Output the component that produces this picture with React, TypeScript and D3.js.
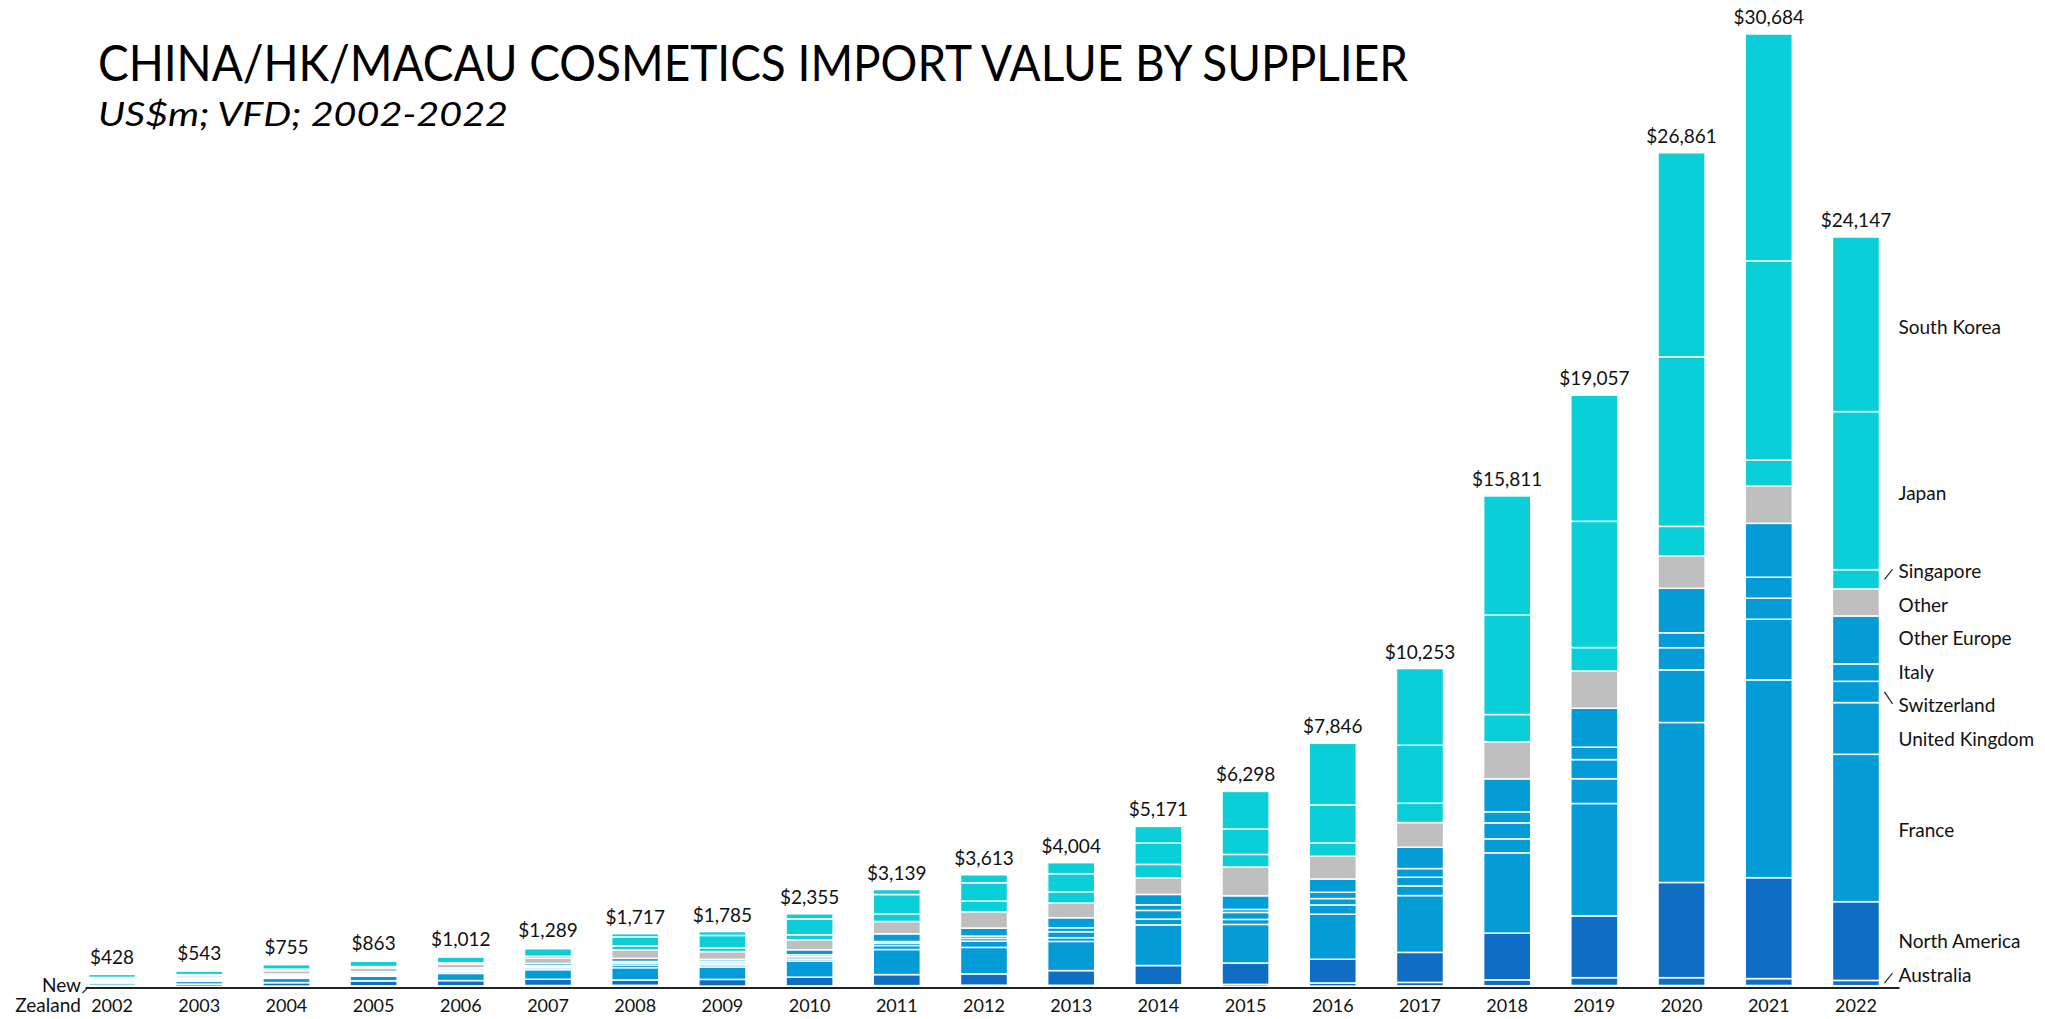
import React from 'react';
import * as d3 from 'd3';

const years = [2002, 2003, 2004, 2005, 2006, 2007, 2008, 2009, 2010, 2011, 2012, 2013, 2014, 2015, 2016, 2017, 2018, 2019, 2020, 2021, 2022];
const totals = [428, 543, 755, 863, 1012, 1289, 1717, 1785, 2355, 3139, 3613, 4004, 5171, 6298, 7846, 10253, 15811, 19057, 26861, 30684, 24147];

// series, bottom to top
const newZealand = [8, 8, 15, 13, 12, 19, 24, 10, 12, 15, 18, 15, 20, 25, 30, 35, 40, 50, 50, 50, 42];
const australia = [10, 15, 15, 25, 25, 30, 30, 20, 25, 30, 40, 40, 50, 60, 100, 113, 190, 250, 250, 220, 170];
const northAmerica = [40, 70, 110, 160, 170, 200, 172, 215, 280, 354, 364, 473, 621, 686, 763, 966, 1504, 1990, 3065, 3249, 2535];
const france = [70, 90, 140, 150, 230, 310, 397, 400, 520, 808, 853, 940, 1311, 1244, 1449, 1830, 2586, 3618, 5151, 6371, 4745];
const unitedKingdom = [25, 30, 35, 40, 55, 60, 80, 70, 64, 129, 203, 119, 184, 161, 299, 309, 451, 799, 1694, 1951, 1665];
const switzerland = [20, 20, 25, 30, 35, 40, 70, 60, 74, 77, 87, 193, 280, 225, 206, 280, 515, 615, 715, 676, 685];
const italy = [15, 15, 20, 20, 25, 30, 50, 55, 64, 52, 74, 129, 180, 97, 203, 280, 354, 399, 480, 676, 560];
const otherEurope = [40, 45, 55, 55, 60, 70, 100, 60, 161, 248, 258, 322, 335, 441, 428, 686, 1063, 1256, 1433, 1736, 1545];
const other = [50, 70, 110, 120, 120, 170, 268, 250, 322, 396, 528, 470, 525, 924, 731, 795, 1191, 1195, 1037, 1195, 870];
const singapore = [30, 35, 50, 45, 50, 60, 129, 120, 161, 248, 341, 367, 441, 406, 428, 621, 879, 757, 956, 837, 620];
const japan = [100, 120, 150, 170, 190, 250, 290, 400, 510, 621, 592, 580, 686, 818, 1224, 1868, 3201, 4064, 5458, 6414, 5090];
const southKorea = [20, 25, 30, 35, 40, 50, 107, 125, 162, 161, 255, 356, 538, 1211, 1985, 2470, 3837, 4064, 6572, 7309, 5620];

const seriesNames = ['New Zealand', 'Australia', 'North America', 'France', 'United Kingdom', 'Switzerland', 'Italy', 'Other Europe', 'Other', 'Singapore', 'Japan', 'South Korea'];
const seriesValues = [newZealand, australia, northAmerica, france, unitedKingdom, switzerland, italy, otherEurope, other, singapore, japan, southKorea];
const seriesGroup = ['dark', 'dark', 'dark', 'mid', 'mid', 'mid', 'mid', 'mid', 'grey', 'cyan', 'cyan', 'cyan'];

const groupColors: Record<string, string> = {
  dark: '#0f6ec4',
  mid: '#039cd6',
  grey: '#bfbfbf',
  cyan: '#0bcfd8',
};

const titleText = 'CHINA/HK/MACAU COSMETICS IMPORT VALUE BY SUPPLIER';
const subtitleText = 'US$m; VFD; 2002-2022';

const FONT = 'Lato, "Noto Sans", sans-serif';

export default function App() {
  const W = 2045;
  const H = 1019;

  const x = d3.scaleBand<number>().domain(years).range([88.5, 1879.5]).paddingInner(0.46).paddingOuter(0);
  const y = d3.scaleLinear().domain([0, 30684]).range([987, 34]);

  const rows = years.map((yr, i) => {
    const r: Record<string, number> = { year: yr };
    seriesNames.forEach((k, j) => { r[k] = seriesValues[j][i]; });
    return r;
  });
  const stacked = d3.stack<Record<string, number>>().keys(seriesNames)(rows);

  const lastIdx = years.length - 1;
  const lastYear = years[lastIdx];
  const barRight = (x(lastYear) as number) + x.bandwidth();

  // right-hand labels (exclude New Zealand, which is labelled at left)
  type Item = { name: string; desired: number; top: number; bottom: number; pos: number };
  const items: Item[] = stacked
    .filter((s) => s.key !== 'New Zealand')
    .map((s) => {
      const d = s[lastIdx];
      const top = y(d[1]);
      const bottom = y(d[0]);
      return { name: s.key, desired: (top + bottom) / 2, top, bottom, pos: 0 };
    })
    .sort((a, b) => a.desired - b.desired);

  const gap = 33.6;
  const maxY = 972;
  let groups = items.map((it) => ({ members: [it], start: it.desired }));
  const place = (g: { members: Item[]; start: number }) => {
    const mean = d3.mean(g.members, (m) => m.desired) as number;
    let start = mean - ((g.members.length - 1) * gap) / 2;
    const end = start + (g.members.length - 1) * gap;
    if (end > maxY) start -= end - maxY;
    g.start = start;
  };
  groups.forEach(place);
  let merged = true;
  while (merged) {
    merged = false;
    for (let i = 0; i < groups.length - 1; i++) {
      const a = groups[i];
      const b = groups[i + 1];
      if (a.start + a.members.length * gap > b.start) {
        const g = { members: [...a.members, ...b.members], start: 0 };
        place(g);
        groups.splice(i, 2, g);
        merged = true;
        break;
      }
    }
  }
  groups.forEach((g) => g.members.forEach((m, i) => { m.pos = g.start + i * gap; }));

  const nz = stacked[0][0];
  const nzMid = (y(nz[0]) + y(nz[1])) / 2;
  const firstLeft = x(years[0]) as number;

  return (
    <svg width={W} height={H} style={{ position: 'absolute', left: 0, top: 0, background: '#fff' }} fontFamily={FONT}>
      <rect x={0} y={0} width={W} height={H} fill="#fff" />
      <text x={98} y={81} fontSize={50} fill="#000" textLength={1310} lengthAdjust="spacingAndGlyphs">{titleText}</text>
      <text x={98} y={126} fontSize={32} fontStyle="italic" fill="#000" textLength={410} lengthAdjust="spacingAndGlyphs">{subtitleText}</text>

      {stacked.map((s, j) => (
        <g key={s.key} fill={groupColors[seriesGroup[j]]}>
          {s.map((d, i) => (
            <rect
              key={years[i]}
              x={x(years[i])}
              y={y(d[1])}
              width={x.bandwidth()}
              height={Math.max(0, y(d[0]) - y(d[1]))}
              stroke="#fff"
              strokeWidth={1.5}
            />
          ))}
        </g>
      ))}

      <line x1={firstLeft - 3} x2={barRight + 20} y1={y(0) + 1} y2={y(0) + 1} stroke="#222" strokeWidth={2} />

      {years.map((yr, i) => (
        <text key={yr} x={(x(yr) as number) + x.bandwidth() / 2} y={y(totals[i]) - 10} fontSize={19} textAnchor="middle" fill="#111">
          {'$' + d3.format(',')(totals[i])}
        </text>
      ))}

      {years.map((yr) => (
        <text key={yr} x={(x(yr) as number) + x.bandwidth() / 2} y={1012} fontSize={18} textAnchor="middle" fill="#111">
          {yr}
        </text>
      ))}

      {items.map((it) => {
        const outside = it.pos < it.top || it.pos > it.bottom;
        return (
          <g key={it.name}>
            {outside && (
              <line x1={barRight + 5} y1={it.desired} x2={barRight + 13} y2={it.pos + 1} stroke="#222" strokeWidth={1.2} />
            )}
            <text x={barRight + 19} y={it.pos + 2} fontSize={19} dominantBaseline="central" fill="#111">
              {it.name}
            </text>
          </g>
        );
      })}

      <text x={81} y={992} fontSize={19} textAnchor="end" fill="#111">New</text>
      <text x={81} y={1012} fontSize={19} textAnchor="end" fill="#111">Zealand</text>
      <line x1={firstLeft - 6} y1={993} x2={firstLeft} y2={nzMid} stroke="#222" strokeWidth={1.2} />
    </svg>
  );
}
